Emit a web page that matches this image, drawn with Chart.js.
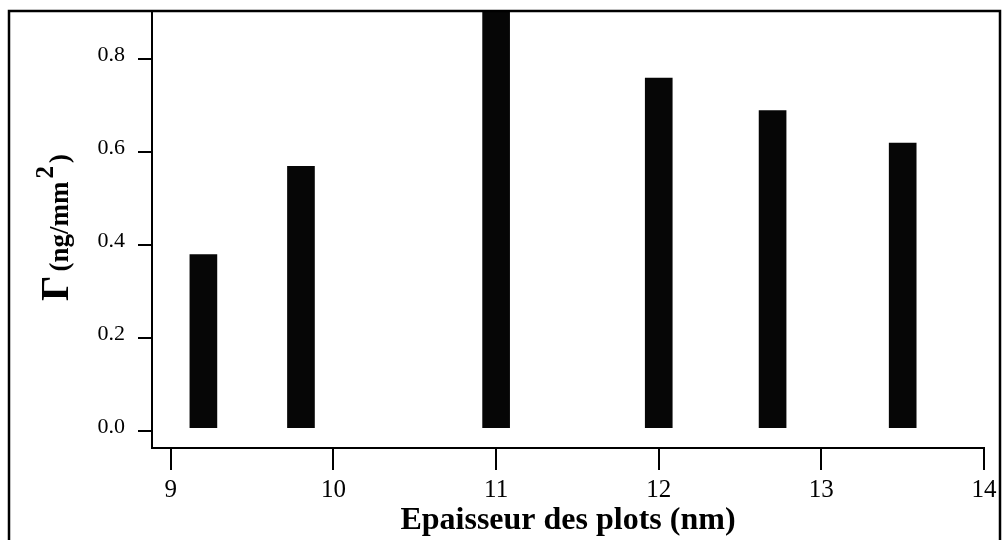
<!DOCTYPE html>
<html>
<head>
<meta charset="utf-8">
<script src="https://cdn.jsdelivr.net/npm/chart.js@4"></script>
<style>
  html, body { margin: 0; padding: 0; background: #ffffff; }
  #wrap { position: relative; width: 1003px; height: 540px; }
</style>
</head>
<body>
<div id="wrap"><canvas id="c" width="1003" height="540"></canvas></div>
<script>
// Plot thickness (nm) and adsorbed amount Γ (ng/mm²)
const thickness = [9.2, 9.8, 11.0, 12.0, 12.7, 13.5];
const gammaValues = [0.38, 0.57, 0.95, 0.76, 0.69, 0.62];
const xTickValues = [9, 10, 11, 12, 13, 14];
const yTickValues = [0.0, 0.2, 0.4, 0.6, 0.8];

const serif = '"Liberation Serif", "Times New Roman", serif';

// Outer frame and the rotated y title with its large Γ and superscript
const decorations = {
  id: 'decorations',
  afterDraw(chart) {
    const ctx = chart.ctx;
    ctx.save();
    ctx.strokeStyle = '#000';
    ctx.lineWidth = 2.5;
    ctx.beginPath();
    ctx.moveTo(9, 545);
    ctx.lineTo(9, 11);
    ctx.lineTo(1000, 11);
    ctx.lineTo(1000, 545);
    ctx.stroke();

    ctx.translate(68, 301);
    ctx.rotate(-Math.PI / 2);
    ctx.fillStyle = '#000';
    ctx.textBaseline = 'alphabetic';
    ctx.textAlign = 'left';
    let x = 0;
    ctx.font = 'bold 40px ' + serif;
    ctx.fillText('Γ', x, 0);
    x += ctx.measureText('Γ').width + 4;
    ctx.font = 'bold 27px ' + serif;
    ctx.fillText('(ng/mm', x, 0);
    x += ctx.measureText('(ng/mm').width + 3;
    ctx.font = 'bold 25px ' + serif;
    ctx.fillText('2', x, -15);
    x += ctx.measureText('2').width + 3;
    ctx.font = 'bold 27px ' + serif;
    ctx.fillText(')', x, 0);
    ctx.restore();
  }
};

new Chart(document.getElementById('c'), {
  type: 'bar',
  data: {
    datasets: [{
      data: thickness.map((t, i) => ({ x: t, y: gammaValues[i] })),
      backgroundColor: '#060606',
      borderWidth: 0,
      barThickness: 27,
      base: 0.008
    }]
  },
  options: {
    responsive: false,
    animation: false,
    devicePixelRatio: 1,
    layout: { padding: { top: 12, right: 19, left: 0, bottom: 0 } },
    plugins: { legend: { display: false }, tooltip: { enabled: false } },
    scales: {
      x: {
        type: 'linear',
        min: 8.884,
        max: 14,
        offset: false,
        afterBuildTicks(scale) { scale.ticks = xTickValues.map(v => ({ value: v })); },
        afterFit(scale) {
          scale.height = 92;
          scale.paddingLeft = 0; scale.paddingRight = 0;
        },
        grid: { offset: false, drawOnChartArea: false, drawTicks: true, tickLength: 22, color: '#000', lineWidth: 2 },
        border: { display: true, color: '#000', width: 2 },
        ticks: {
          color: '#000',
          font: { family: serif, size: 25 },
          padding: 5,
          maxRotation: 0,
          autoSkip: false,
          callback: v => String(v)
        },
        title: {
          display: true,
          text: 'Epaisseur des plots (nm)',
          color: '#000',
          font: { family: serif, size: 32, weight: 'bold' },
          padding: { top: 0, bottom: 0 }
        }
      },
      y: {
        type: 'linear',
        min: -0.036,
        max: 0.902,
        afterBuildTicks(scale) { scale.ticks = yTickValues.map(v => ({ value: v })); },
        afterFit(scale) {
          scale.width = 152;
          scale.paddingTop = 0; scale.paddingBottom = 0;
        },
        grid: { drawOnChartArea: false, drawTicks: true, tickLength: 14, color: '#000', lineWidth: 2 },
        border: { display: true, color: '#000', width: 2 },
        ticks: {
          color: '#000',
          font: { family: serif, size: 22 },
          padding: 13,
          labelOffset: -4,
          autoSkip: false,
          callback: v => Number(v).toFixed(1)
        }
      }
    }
  },
  plugins: [decorations]
});
</script>
</body>
</html>
